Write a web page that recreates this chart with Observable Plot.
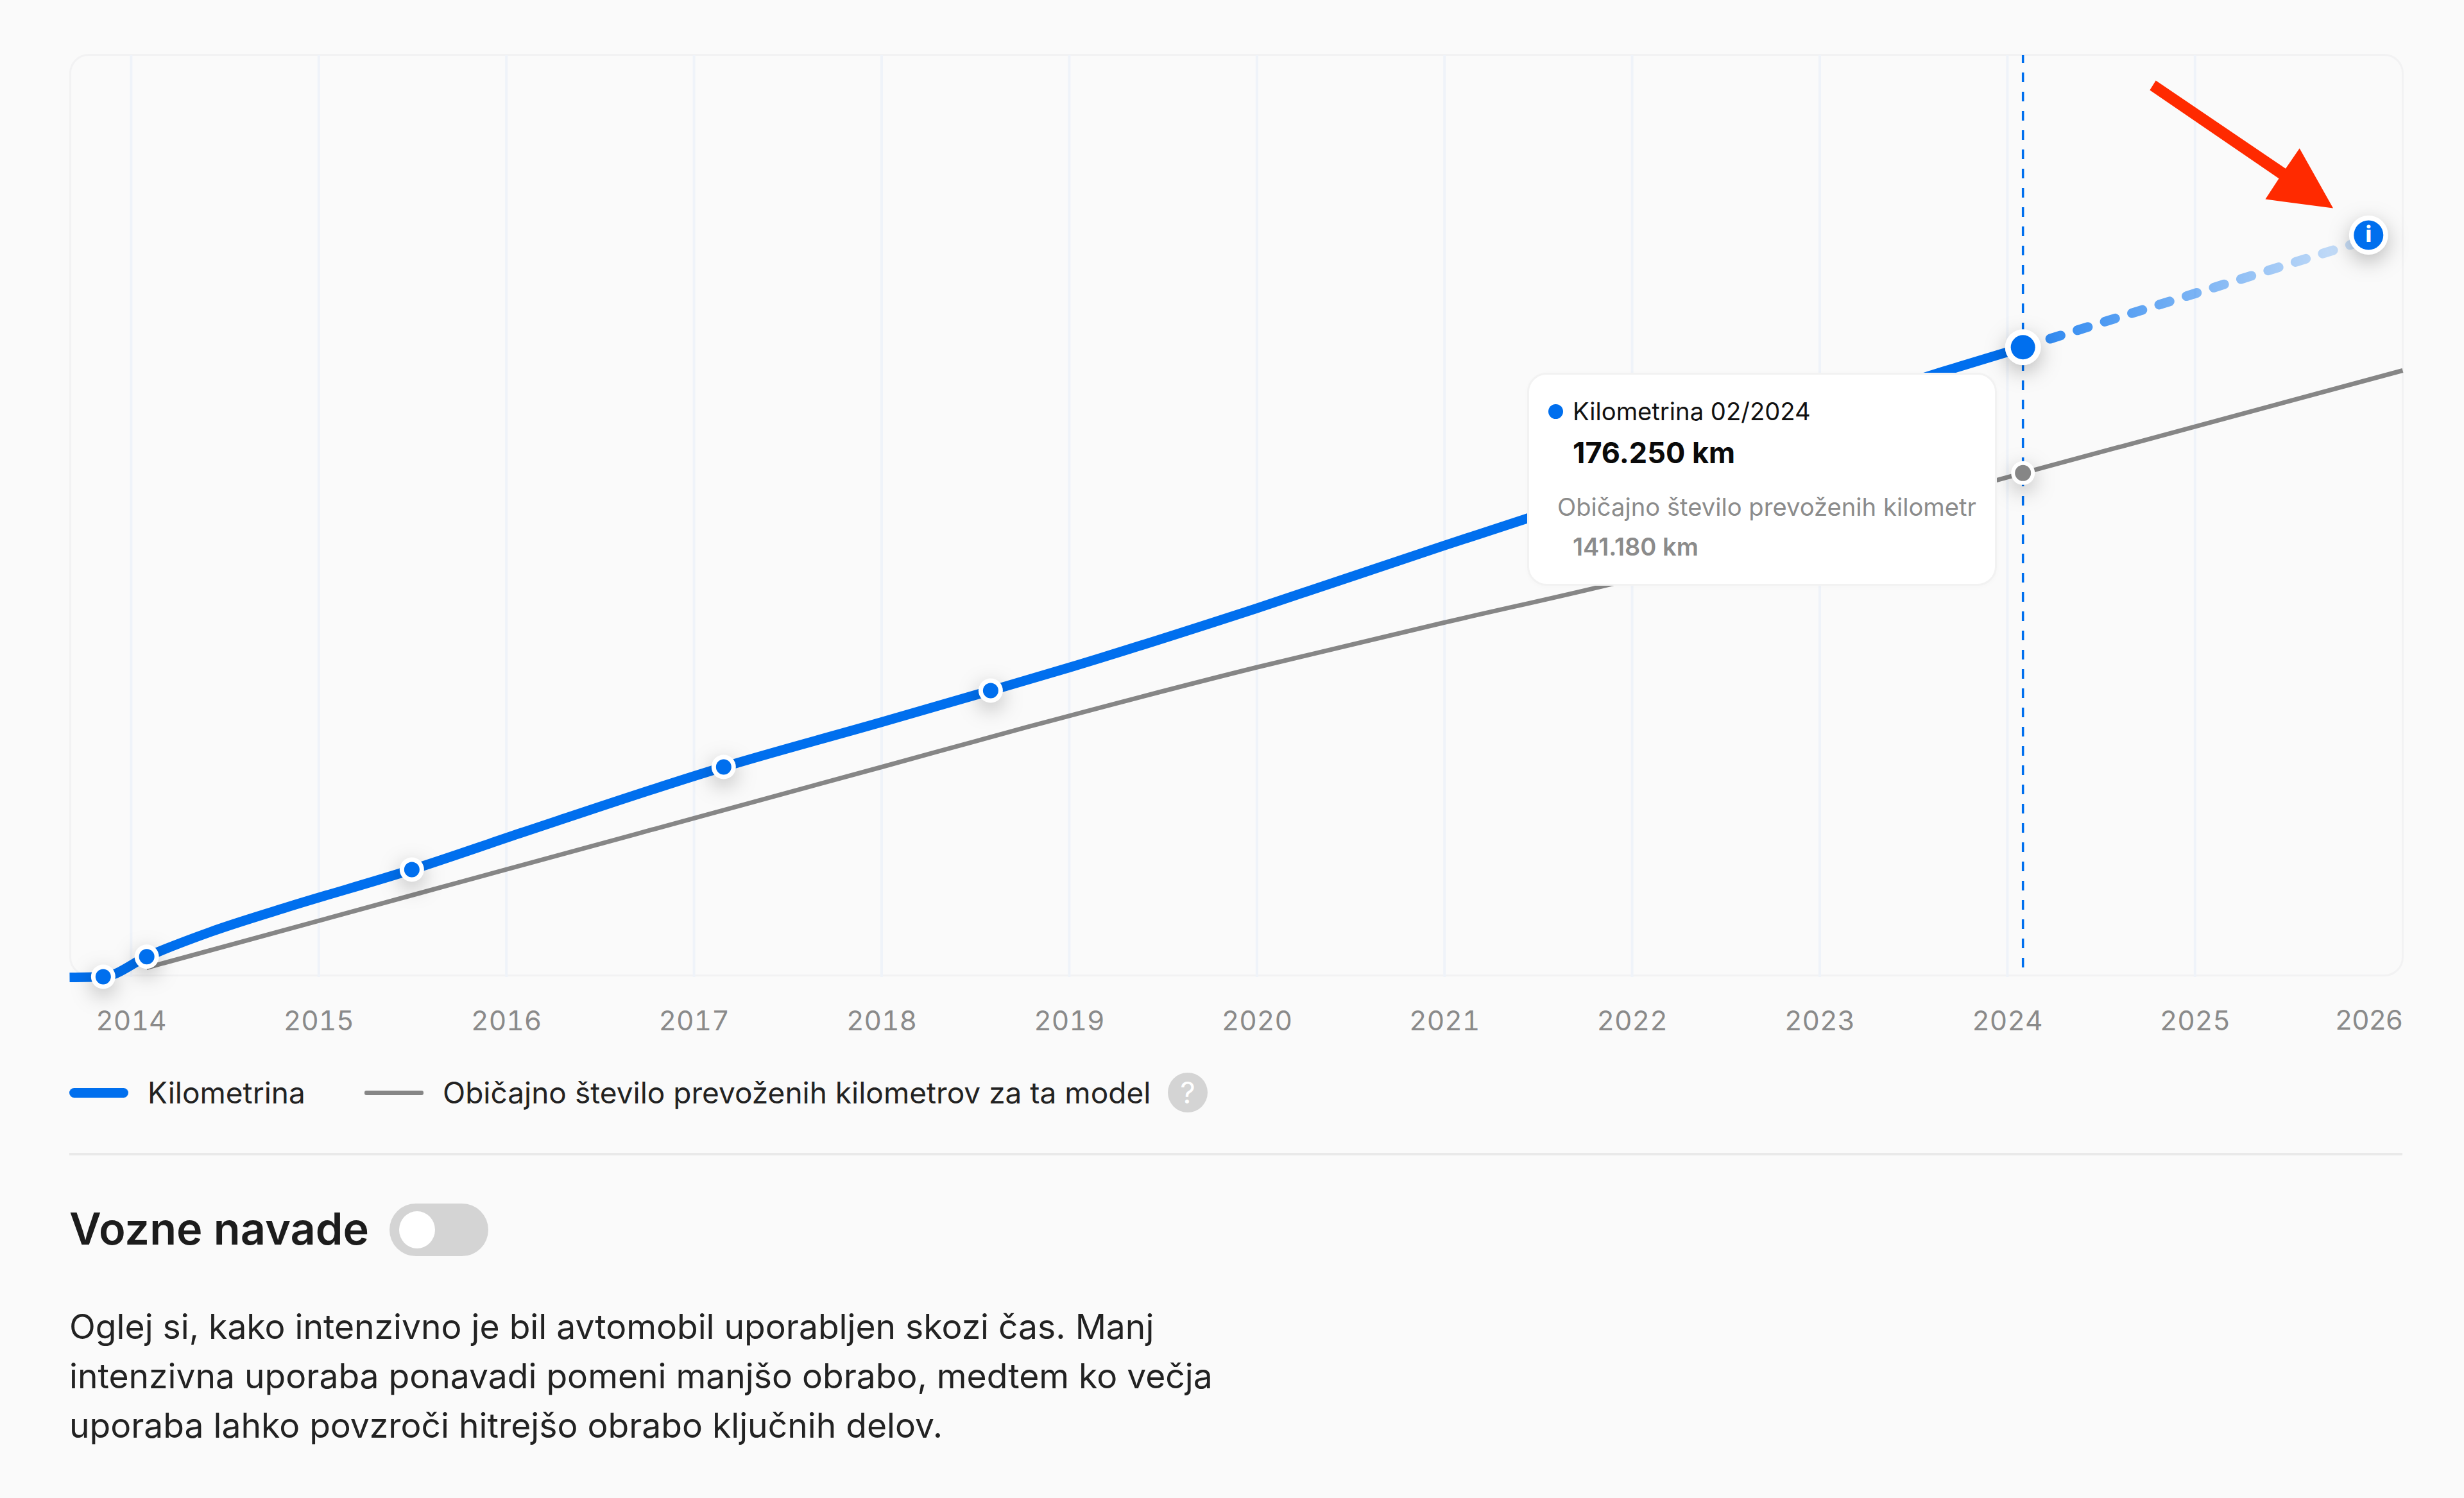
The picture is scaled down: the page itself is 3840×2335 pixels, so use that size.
<!DOCTYPE html>
<html lang="sl">
<head>
<meta charset="utf-8">
<script src="https://cdn.jsdelivr.net/npm/d3@7"></script>
<script src="https://cdn.jsdelivr.net/npm/@observablehq/plot@0.6"></script>
<style>
  html, body { margin: 0; padding: 0; background: #fafafa; width: 3840px; height: 2335px; overflow: hidden; font-family: Inter, sans-serif; }
  #page { position: relative; width: 3840px; height: 2335px; }
  #card { position: absolute; left: 108px; top: 84px; width: 3632px; height: 1432px; border: 3px solid #f2f2f3; border-radius: 30px; box-sizing: content-box; }
  #chart { position: absolute; left: 0; top: 0; }
  #chart svg { display: block; background: transparent; }
  g[fill="#ffffff"] { filter: drop-shadow(0 10px 16px rgba(0,0,0,.26)); }
  .t { position: absolute; white-space: nowrap; line-height: 1; transform: translateY(-50%); }
  #tip { position: absolute; left: 2380px; top: 581px; width: 732px; height: 332px; background: #fff; border: 3px solid #f2f2f2; border-radius: 30px; box-sizing: border-box; box-shadow: 0 2px 8px rgba(0,0,0,.02); }
  #tipdot { position: absolute; left: 2413px; top: 630px; width: 23px; height: 23px; border-radius: 50%; background: #006fee; }
  .sw { position: absolute; }
  #sep { position: absolute; left: 108px; top: 1797px; width: 3636px; height: 4px; background: #e9e9e9; }
  #toggle { position: absolute; left: 607px; top: 1876px; width: 154px; height: 82px; border-radius: 41px; background: #d4d4d4; }
  #knob { position: absolute; left: 622px; top: 1888px; width: 56px; height: 58px; border-radius: 50%; background: #fff; }
  #help { position: absolute; left: 1820px; top: 1672px; width: 62px; height: 62px; border-radius: 50%; background: #d4d4d4; color: #fff; font-size: 46px; line-height: 62px; text-align: center; }
</style>
</head>
<body>
<div id="page">
  <div id="card"></div>
  <div id="chart"></div>
  <div id="tip"></div>
  <div id="tipdot"></div>
  <div class="t" style="left:2451px;top:641px;font-size:38.2px;color:#111">Kilometrina 02/2024</div>
  <div class="t" style="left:2451px;top:705px;font-size:45px;font-weight:700;color:#0a0a0a">176.250 km</div>
  <div class="t" style="left:2427px;top:790px;font-size:38.2px;color:#8b8b8b">Običajno število prevoženih kilometr</div>
  <div class="t" style="left:2451px;top:852px;font-size:38px;font-weight:600;color:#8b8b8b">141.180 km</div>

  <div class="sw" style="left:108px;top:1696px;width:92px;height:15px;border-radius:8px;background:#006fee"></div>
  <div class="t" style="left:230px;top:1703px;font-size:46px;color:#222">Kilometrina</div>
  <div class="sw" style="left:568px;top:1700px;width:92px;height:7px;border-radius:3px;background:#868686"></div>
  <div class="t" style="left:690px;top:1703px;font-size:46px;color:#222">Običajno število prevoženih kilometrov za ta model</div>
  <div id="help">?</div>
  <div id="sep"></div>

  <div class="t" style="left:108px;top:1916px;font-size:68.5px;font-weight:600;color:#1c1c1c">Vozne navade</div>
  <div id="toggle"></div><div id="knob"></div>

  <div class="t" style="left:108px;top:2068px;font-size:53.4px;color:#222">Oglej si, kako intenzivno je bil avtomobil uporabljen skozi čas. Manj</div>
  <div class="t" style="left:108px;top:2145px;font-size:53.4px;color:#222">intenzivna uporaba ponavadi pomeni manjšo obrabo, medtem ko večja</div>
  <div class="t" style="left:108px;top:2222px;font-size:53.4px;color:#222">uporaba lahko povzroči hitrejšo obrabo ključnih delov.</div>
</div>
<script>
// x axis years
const gridYears = [2014, 2015, 2016, 2017, 2018, 2019, 2020, 2021, 2022, 2023, 2024, 2025];
const lastYear = 2026;

// Kilometrina (blue series)
const mileageYears = [2013.672, 2013.851, 2014.083, 2014.424, 2014.816, 2015.496, 2016.09, 2017.158, 2018.001, 2018.581, 2019.0, 2019.995, 2020.997, 2021.435, 2023.654, 2024.083];
const mileageKm = [537, 716, 6315, 13240, 19860, 30590, 41020, 59220, 71740, 80505, 86945, 103400, 120936, 128450, 169418, 176250];

// Marked readings on the blue series
const markerYears = [2013.851, 2014.083, 2015.496, 2017.158, 2018.581];
const markerKm = [716, 6315, 30590, 59220, 80505];

// Običajno število (grey series)
const typicalYears = [2014.082, 2015.496, 2016.685, 2018.001, 2018.774, 2019.995, 2020.997, 2021.838, 2024.083, 2026.107];
const typicalKm = [3220, 23436, 40431, 59216, 70308, 86945, 99468, 109560, 141180, 169776];

// Selected month
const selectedYear = [2024.083];
const selectedKm = [176250];
const selectedTypicalKm = [141180];

// Projection (dashed)
const forecastYears = [2024.083, 2025.925];
const forecastKm = [176250, 206400];
const infoYear = [2025.925];
const infoKm = [207524];

// Red annotation arrow outline
const arrowYears = [2024.791, 2025.483, 2025.557, 2025.736, 2025.375, 2025.447, 2024.759];
const arrowKm = [250639, 226076, 231729, 215038, 217542, 223321, 247955];

// Scale bounds
const xDomain = [2013.672, 2026.107];
const yDomain = [0, 257616];
const gridKm = [537, 257616];
const ruleKm = [3220, 257616];

const BLUE = "#006fee", GREY = "#868686", GRID = "#eff3f9";

const fadeDefs = () => {
  const ns = "http://www.w3.org/2000/svg";
  const defs = document.createElementNS(ns, "defs");
  const g = document.createElementNS(ns, "linearGradient");
  g.setAttribute("id", "fade");
  g.setAttribute("x1", "0"); g.setAttribute("x2", "1"); g.setAttribute("y1", "0"); g.setAttribute("y2", "0");
  [[0, 0.85], [1, 0.16]].forEach(([o, a]) => {
    const s = document.createElementNS(ns, "stop");
    s.setAttribute("offset", o); s.setAttribute("stop-color", BLUE); s.setAttribute("stop-opacity", a);
    g.appendChild(s);
  });
  defs.appendChild(g);
  return defs;
};

const chart = Plot.plot({
  width: 3840, height: 1660,
  marginLeft: 0, marginRight: 0, marginTop: 0, marginBottom: 137,
  style: { background: "transparent", fontFamily: "Inter, sans-serif", overflow: "visible" },
  x: { domain: xDomain, range: [108, 3744], axis: null },
  y: { domain: yDomain, range: [1526, 86], axis: null },
  marks: [
    fadeDefs,
    Plot.ruleX(gridYears, { y1: gridKm[0], y2: gridKm[1], stroke: GRID, strokeWidth: 4 }),
    Plot.axisX(gridYears, { anchor: "bottom", tickSize: 0, tickPadding: 52, fontSize: 42.5, fill: "#8a8a8a", stroke: "none", tickFormat: d => String(d) }),
    Plot.text([lastYear], { x: () => xDomain[1], y: yDomain[0], text: d => String(d), textAnchor: "end", dy: 65, fontSize: 42.5, fill: "#8a8a8a" }),
    Plot.ruleX(selectedYear, { y1: ruleKm[0], y2: ruleKm[1], stroke: BLUE, strokeWidth: 3.5, strokeDasharray: "15 15" }),
    Plot.line(typicalKm, { x: typicalYears, y: typicalKm, stroke: GREY, strokeWidth: 7, curve: "monotone-x", strokeLinecap: "butt" }),
    Plot.line(forecastKm, { x: forecastYears, y: forecastKm, stroke: "url(#fade)", strokeWidth: 15, strokeDasharray: "17 27.5", strokeLinecap: "round" }),
    Plot.line(mileageKm, { x: mileageYears, y: mileageKm, stroke: BLUE, strokeWidth: 15, curve: "monotone-x", strokeLinecap: "butt" }),
    Plot.dot(markerKm, { x: markerYears, y: markerKm, r: 19, fill: "#ffffff", stroke: "none" }),
    Plot.dot(markerKm, { x: markerYears, y: markerKm, r: 12, fill: BLUE, stroke: "none" }),
    Plot.dot(selectedTypicalKm, { x: selectedYear, y: selectedTypicalKm, r: 18.5, fill: "#ffffff", stroke: "none" }),
    Plot.dot(selectedTypicalKm, { x: selectedYear, y: selectedTypicalKm, r: 12.5, fill: GREY, stroke: "none" }),
    Plot.dot(selectedKm, { x: selectedYear, y: selectedKm, r: 28, fill: "#ffffff", stroke: "none" }),
    Plot.dot(selectedKm, { x: selectedYear, y: selectedKm, r: 19, fill: BLUE, stroke: "none" }),
    Plot.dot(infoKm, { x: infoYear, y: infoKm, r: 30.5, fill: "#ffffff", stroke: "none" }),
    Plot.dot(infoKm, { x: infoYear, y: infoKm, r: 23, fill: BLUE, stroke: "none" }),
    Plot.text(infoKm, { x: infoYear, y: infoKm, text: () => "i", fill: "#fff", fontSize: 34, fontWeight: 800 }),
    Plot.line(arrowKm, { x: arrowYears, y: arrowKm, fill: "#ff2a00", stroke: "none", curve: "linear" })
  ]
});
document.getElementById("chart").appendChild(chart);
</script>
</body>
</html>
